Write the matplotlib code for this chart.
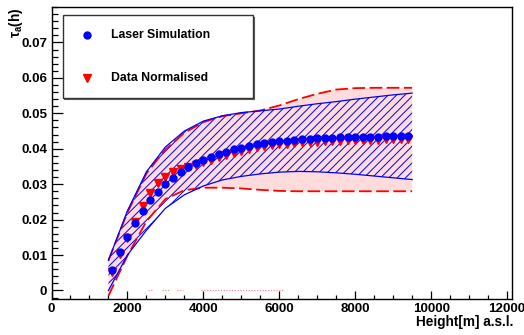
import numpy as np
import matplotlib
matplotlib.use("Agg")
import matplotlib.pyplot as plt
from matplotlib.lines import Line2D
from matplotlib.patches import Rectangle
from matplotlib.ticker import MultipleLocator, FuncFormatter

plt.rcParams['font.family'] = ['Liberation Sans', 'DejaVu Sans']
plt.rcParams['font.weight'] = 'bold'
plt.rcParams['mathtext.fontset'] = 'custom'
plt.rcParams['mathtext.rm'] = 'Liberation Sans:bold'
plt.rcParams['mathtext.it'] = 'Liberation Sans'
plt.rcParams['mathtext.bf'] = 'Liberation Sans:bold'
plt.rcParams['hatch.linewidth'] = 0.7

# ---------------- data ----------------
height = np.arange(1600, 9401, 200)
laser_sim = [0.0058, 0.0108, 0.0152, 0.0191, 0.0225, 0.0254, 0.0278, 0.0300,
             0.0318, 0.0335, 0.0349, 0.0360, 0.0369, 0.0378, 0.0386, 0.0392,
             0.0398, 0.0403, 0.0408, 0.0413, 0.0416, 0.0419, 0.0421, 0.0423,
             0.0425, 0.0427, 0.0428, 0.0429, 0.0430, 0.0431, 0.0432, 0.0433,
             0.0433, 0.0434, 0.0434, 0.0434, 0.0435, 0.0435, 0.0435, 0.0436]
data_norm = [0.0052, 0.0102, 0.0148, 0.0192, 0.0238, 0.0275, 0.0302, 0.0320,
             0.0333, 0.0342, 0.0348, 0.0355, 0.0362, 0.0369, 0.0376, 0.0383,
             0.0389, 0.0395, 0.0400, 0.0404, 0.0407, 0.0410, 0.0412, 0.0414,
             0.0416, 0.0418, 0.0419, 0.0420, 0.0421, 0.0422, 0.0423, 0.0424,
             0.0425, 0.0425, 0.0426, 0.0426, 0.0427, 0.0427, 0.0428, 0.0428]

band_x = [1500, 2000, 2500, 3000, 3500, 4000, 4500, 5000, 5500, 6000, 6500,
          7000, 7500, 8000, 8500, 9000, 9500]
sim_upper = [0.0085, 0.0225, 0.0335, 0.0405, 0.0450, 0.0478, 0.0493, 0.0502,
             0.0507, 0.0512, 0.0520, 0.0527, 0.0533, 0.0540, 0.0546, 0.0552, 0.0557]
sim_lower = [0.0000, 0.0100, 0.0170, 0.0232, 0.0270, 0.0295, 0.0312, 0.0322,
             0.0329, 0.0334, 0.0336, 0.0335, 0.0332, 0.0328, 0.0323, 0.0318, 0.0313]
data_upper = [0.0085, 0.0220, 0.0330, 0.0398, 0.0445, 0.0475, 0.0492, 0.0500,
              0.0508, 0.0522, 0.0540, 0.0555, 0.0567, 0.0571, 0.0572, 0.0572, 0.0572]
data_lower = [-0.0015, 0.0098, 0.0195, 0.0258, 0.0283, 0.0290, 0.0290, 0.0288,
              0.0284, 0.0281, 0.0280, 0.0280, 0.0280, 0.0280, 0.0280, 0.0280, 0.0280]

# empty bins drawn at zero
zero_segments = [(2540, 2670), (2910, 3090), (3300, 3460), (3940, 6100)]

x_ticks = [0, 2000, 4000, 6000, 8000, 10000, 12000]
y_ticks = [0, 0.01, 0.02, 0.03, 0.04, 0.05, 0.06, 0.07]

# ---------------- figure ----------------
W, H = 524, 335
fig = plt.figure(figsize=(W / 100, H / 100), dpi=100)
ax = fig.add_axes([51.5 / W, 1 - 299 / H, (512 - 51.5) / W, (299 - 7) / H])

ax.fill_between(band_x, data_lower, data_upper, facecolor='#ffdcdc',
                edgecolor='none', linewidth=0, zorder=1)
ax.fill_between(band_x, sim_lower, sim_upper, facecolor='none',
                edgecolor='#0000ff', hatch='////', linewidth=0, zorder=2)
ax.plot(band_x, data_upper, color='red', lw=1.3, dashes=(7, 2.5), zorder=3)
ax.plot(band_x, data_lower, color='red', lw=1.3, dashes=(7, 2.5), zorder=3)
ax.plot(band_x, sim_upper, color='blue', lw=0.9, zorder=3)
ax.plot(band_x, sim_lower, color='blue', lw=0.9, zorder=3)
for a, b in zero_segments:
    ax.plot([a, b], [0, 0], color='#ff8080', lw=0.8, ls=(0, (1, 1.5)), zorder=1)

ax.plot(height, data_norm, ls='none', marker='v', ms=5.5, color='red',
        mec='red', zorder=4)
ax.plot(height, laser_sim, ls='none', marker='o', ms=5.0, color='blue',
        mec='blue', zorder=5)

ax.set_xlim(0, 12130)
ax.set_ylim(-0.0024, 0.0800)
ax.set_xticks(x_ticks)
ax.set_yticks(y_ticks)
ax.xaxis.set_minor_locator(MultipleLocator(500))
ax.yaxis.set_minor_locator(MultipleLocator(0.002))
ax.xaxis.set_major_formatter(FuncFormatter(lambda v, p: f'{int(round(v))}'))
ax.yaxis.set_major_formatter(FuncFormatter(lambda v, p: '0' if abs(v) < 1e-9 else f'{v:.2f}'))
ax.tick_params(axis='both', which='both', direction='in', top=False, right=False,
               labelsize=9.6, width=0.9)
ax.tick_params(axis='y', which='major', length=8, pad=3)
ax.tick_params(axis='y', which='minor', length=4.5)
ax.tick_params(axis='x', which='major', length=5.5, pad=3)
ax.tick_params(axis='x', which='minor', length=2.8)
for lab in ax.get_xticklabels() + ax.get_yticklabels():
    lab.set_fontweight('bold')
for s in ax.spines.values():
    s.set_linewidth(1.0)

fig.text(513 / W, 1 - 326 / H, 'Height[m] a.s.l.', ha='right', va='baseline',
         fontsize=9.8, fontweight='bold')
fig.text(16 / W, 1 - 7 / H, r'$\tau_{\mathrm{a}}$(h)', ha='center', va='top',
         rotation=90, fontsize=9.8, fontweight='bold')

# legend box
lx0, ly0, lx1, ly1 = 62.7, 15, 253, 98
fig.patches.append(Rectangle((lx0 / W, 1 - ly1 / H), (lx1 - lx0) / W, (ly1 - ly0) / H,
                             transform=fig.transFigure, facecolor='white',
                             edgecolor='#333333', linewidth=1.0, zorder=10))
fig.lines.append(Line2D([(lx0 + 1.5) / W, (lx1 + 1) / W, (lx1 + 1) / W],
                        [1 - (ly1 + 1) / H, 1 - (ly1 + 1) / H, 1 - (ly0 + 1.5) / H],
                        transform=fig.transFigure, color='#555555', lw=0.8, zorder=11))
fig.lines.append(Line2D([87 / W], [1 - 35 / H], transform=fig.transFigure, ls='none',
                        marker='o', ms=5.0, color='blue', zorder=12))
fig.lines.append(Line2D([87 / W], [1 - 78 / H], transform=fig.transFigure, ls='none',
                        marker='v', ms=5.5, color='red', zorder=12))
fig.text(111 / W, 1 - 35 / H, 'Laser Simulation', ha='left', va='center',
         fontsize=8.8, fontweight='bold', zorder=12)
fig.text(111 / W, 1 - 78 / H, 'Data Normalised', ha='left', va='center',
         fontsize=8.8, fontweight='bold', zorder=12)

fig.savefig('out.png', dpi=100)
